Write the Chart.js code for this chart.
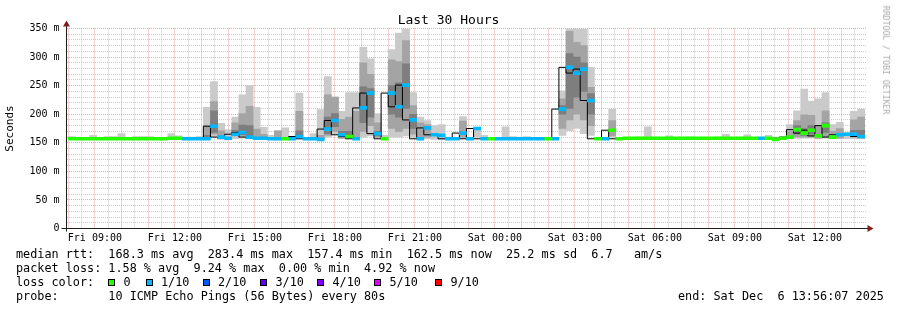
<!DOCTYPE html>
<html>
<head>
<meta charset="utf-8">
<script src="https://cdn.jsdelivr.net/npm/chart.js@4.4.1/dist/chart.umd.min.js"></script>
<style>
  body { margin: 0; background: #fff; }
  #wrap { position: relative; width: 897px; height: 310px; font-family: "DejaVu Sans Mono", monospace; color: #000; overflow: hidden; }
  #c { position: absolute; left: 0; top: 0; }
  .t { position: absolute; white-space: pre; line-height: 1; }
  .leg { font-size: 11.8px; }
  .sq { position: absolute; width: 5px; height: 5px; border: 1px solid #000; top: 279px; }
</style>
</head>
<body>
<div id="wrap">
  <canvas id="c" width="897" height="310"></canvas>
  <div class="t" style="left:0;width:897px;text-align:center;top:13px;font-size:13px;">Last 30 Hours</div>
  <div class="t" style="left:886px;top:60px;font-size:8.2px;color:#a8a8a8;transform:translate(-50%,-50%) rotate(90deg);">RRDTOOL / TOBI OETIKER</div>

  <div class="t leg" style="left:16px;top:249px;">median rtt:  168.3 ms avg  283.4 ms max  157.4 ms min  162.5 ms now  25.2 ms sd  6.7   am/s</div>
  <div class="t leg" style="left:16px;top:263px;">packet loss: 1.58 % avg  9.24 % max  0.00 % min  4.92 % now</div>
  <div class="t leg" style="left:16px;top:277px;">loss color:</div>
  <div id="lossLegend"></div>
  <div class="t leg" style="left:16px;top:290.5px;">probe:       10 ICMP Echo Pings (56 Bytes) every 80s</div>
  <div class="t leg" style="left:678px;top:290.5px;">end: Sat Dec  6 13:56:07 2025</div>
</div>

<script>
// time axis: hours since Fri 00:00
const viewStart = 7 + 56 / 60 + 7 / 3600;   // Fri 07:56:07
const viewEnd = viewStart + 30;              // Sat 13:56:07
const binStart = 8;                          // first 16 minute bin, Fri 08:00
const binHours = 16 / 60;

const lossColors = ['#26ff00', '#00b8ff', '#0059ff', '#5e00ff', '#7e00ff', '#dd00ff', '#ff0000'];
const lossLabels = ['0', '1/10', '2/10', '3/10', '4/10', '5/10', '9/10'];

const _ = null;

// median rtt per bin (ms)
const med = [
  157,157,157,157,157,157,157,157,157,157,
  157,157,157,157,158,158,157,157,157,157,
  179,160,158,165,168,160,158,158,157,157,
  157,157,161,157,157,156,174,189,164,161,
  157,211,237,166,157,237,213,251,190,157,
  176,164,163,157,157,167,157,175,157,157,
  157,157,157,157,157,157,157,157,157,209,
  282,272,279,224,157,157,172,157,158,158,
  158,158,158,158,158,158,158,158,158,158,
  158,158,158,158,158,158,158,158,158,156,
  158,160,173,167,172,162,180,160,164,165,
  165,161
];

// lost pings out of 10 per bin
const lost = [
  0,0,0,0,0,0,0,0,0,0,
  0,0,0,0,0,0,1,1,1,1,
  1,1,1,1,1,1,1,1,1,1,
  0,1,1,1,1,1,1,1,1,0,
  1,1,1,1,0,1,1,1,1,1,
  1,1,1,1,1,1,1,1,1,0,
  1,1,1,1,1,1,1,0,1,1,
  1,1,1,1,0,1,0,0,0,0,
  0,0,0,0,0,0,0,0,0,0,
  0,0,0,0,0,0,0,1,0,0,
  0,0,0,0,0,0,0,0,1,1,
  1,1
];

// smoke: fastest / slowest ping
const smokeLo = [
  156,156,156,156,156,156,156,156,156,156,
  156,156,156,156,156,156,156,156,156,158,
  161,156,156,157,158,157,156,156,156,156,
  156,156,157,156,156,156,160,165,157,157,
  156,160,162,158,156,160,160,162,160,156,
  157,156,156,156,156,157,156,160,156,156,
  156,156,156,156,156,156,156,156,156,163,
  171,175,166,163,156,156,160,156,156,156,
  156,156,156,156,156,156,156,156,156,156,
  156,156,156,156,156,156,156,156,156,156,
  156,157,158,158,158,157,158,157,157,157,
  157,157
];
const smokeHi = [
  161,159,159,163,159,161,161,166,159,161,
  161,161,159,159,166,162,160,160,161,212,
  257,184,173,195,234,250,212,177,163,171,
  176,160,237,159,166,208,266,230,205,238,
  238,317,297,201,163,313,342,350,238,195,
  189,180,182,160,159,196,158,176,163,158,
  158,178,161,160,161,158,158,158,158,241,
  350,350,350,282,158,158,209,158,159,159,
  160,178,160,159,162,159,159,160,159,159,
  159,160,165,159,159,164,159,159,163,160,
  159,182,206,244,223,227,238,182,186,168,
  205,209
];

// smoke: 3rd / 8th ping
const midLo = [
  _,_,_,_,_,_,_,_,_,_,
  _,_,_,_,_,_,_,_,_,160,
  165,158,_,162,162,160,157,157,_,157,
  _,_,158,_,_,157,163,170,158,158,
  158,170,180,160,_,175,170,175,165,158,
  160,_,_,_,_,160,_,_,_,_,
  _,_,_,_,_,_,_,_,_,175,
  190,200,190,180,_,_,162,_,_,_,
  _,_,_,_,_,_,_,_,_,_,
  _,_,_,_,_,_,_,_,_,_,
  _,158,160,160,160,158,160,158,158,_,
  160,158
];
const midHi = [
  _,_,_,_,_,_,_,_,_,_,
  _,_,_,_,_,_,_,_,_,180,
  222,171,_,185,201,214,174,165,_,171,
  _,_,205,_,_,163,234,230,191,195,
  205,290,270,185,_,295,292,329,215,185,
  182,_,_,_,_,188,_,_,_,_,
  _,_,_,_,_,_,_,_,_,227,
  345,326,320,247,_,_,189,_,_,_,
  _,_,_,_,_,_,_,_,_,_,
  _,_,_,_,_,_,_,_,_,_,
  _,170,189,199,198,180,206,170,175,_,
  190,195
];

// smoke: 4th / 7th ping
const innerLo = [
  _,_,_,_,_,_,_,_,_,_,
  _,_,_,_,_,_,_,_,_,159,
  168,_,_,163,164,162,_,_,_,_,
  _,_,159,_,_,_,166,178,160,159,
  _,185,195,162,_,200,195,210,175,_,
  _,_,_,_,_,_,_,_,_,_,
  _,_,_,_,_,_,_,_,_,200,
  210,230,240,200,_,_,_,_,_,_,
  _,_,_,_,_,_,_,_,_,_,
  _,_,_,_,_,_,_,_,_,_,
  _,_,165,163,165,_,168,_,_,_,
  162,160
];
const innerHi = [
  _,_,_,_,_,_,_,_,_,_,
  _,_,_,_,_,_,_,_,_,163,
  206,_,_,172,181,180,_,_,_,_,
  _,_,171,_,_,_,195,201,170,170,
  _,248,245,170,_,250,255,288,200,_,
  _,_,_,_,_,_,_,_,_,_,
  _,_,_,_,_,_,_,_,_,215,
  306,300,290,236,_,_,_,_,_,_,
  _,_,_,_,_,_,_,_,_,_,
  _,_,_,_,_,_,_,_,_,_,
  _,_,180,175,180,_,185,_,_,_,
  172,172
];

const binLeft = i => binStart + i * binHours;
const binCenter = i => binStart + (i + 0.5) * binHours;
const colorIndex = n => (n >= 9 ? 6 : Math.min(n, 5));
const isWhole = v => Math.abs(v - Math.round(v)) < 1e-6;

function band(lo, hi, color, order) {
  const pts = [];
  med.forEach((m, i) => {
    if (lo[i] == null || hi[i] == null) return;
    pts.push({ x: binCenter(i), y: [lo[i], hi[i]] });
  });
  return { type: 'bar', data: pts, backgroundColor: color, grouped: false,
           barPercentage: 1, categoryPercentage: 1, borderWidth: 0, order };
}

// median marks coloured by loss (LINE3 -> 3px high, 350ms over 200px)
const halfLine = 1.5 * 350 / 200;
const lossSets = lossColors.map((col, c) => ({
  type: 'bar',
  data: med.map((m, i) => colorIndex(lost[i]) === c ? { x: binCenter(i), y: [m - halfLine, m + halfLine] } : null)
           .filter(p => p),
  backgroundColor: col, grouped: false, barPercentage: 1, categoryPercentage: 1, borderWidth: 0, order: 1
}));

const medLine = med.map((m, i) => ({ x: binLeft(i), y: m }));
medLine.push({ x: binLeft(med.length), y: med[med.length - 1] });

const axisArrows = {
  id: 'axisArrows',
  afterDatasetsDraw(chart) {
    const { ctx, chartArea: a } = chart;
    ctx.save();
    ctx.strokeStyle = '#1f1f1f';
    ctx.lineWidth = 1;
    ctx.beginPath();
    ctx.moveTo(a.left - 5, a.bottom); ctx.lineTo(a.right + 3, a.bottom);
    ctx.moveTo(a.left, a.bottom + 3); ctx.lineTo(a.left, a.top - 3);
    ctx.stroke();
    ctx.fillStyle = '#801f1f';
    ctx.beginPath();
    ctx.moveTo(a.left, a.top - 8); ctx.lineTo(a.left - 3.5, a.top - 2); ctx.lineTo(a.left + 3.5, a.top - 2);
    ctx.fill();
    ctx.beginPath();
    ctx.moveTo(a.right + 7, a.bottom); ctx.lineTo(a.right + 1, a.bottom - 3.5); ctx.lineTo(a.right + 1, a.bottom + 3.5);
    ctx.fill();
    ctx.restore();
  }
};

const tickFont = { family: 'DejaVu Sans Mono', size: 10 };
const minorGrid = 'rgba(143,143,143,0.45)';
const majorGrid = 'rgba(222,79,79,0.5)';

new Chart(document.getElementById('c'), {
  type: 'bar',
  data: {
    datasets: [
      ...lossSets,
      { type: 'line', data: medLine, stepped: 'after', borderColor: '#000', borderWidth: 1,
        pointRadius: 0, fill: false, order: 3 },
      band(innerLo, innerHi, '#7e7e7e', 6),
      band(midLo, midHi, '#a4a4a4', 7),
      band(smokeLo, smokeHi, '#cacaca', 8)
    ]
  },
  options: {
    responsive: false,
    animation: false,
    layout: { padding: { top: 28.5, left: 0, right: 30.5, bottom: 0 } },
    plugins: { legend: { display: false }, tooltip: { enabled: false }, title: { display: false } },
    scales: {
      x: {
        type: 'linear',
        offset: false,
        min: viewStart,
        max: viewEnd,
        afterFit: s => { s.height = 81.5; },
        // half-hour grid on clock time, labels every 3 hours
        afterBuildTicks: s => {
          const ticks = [];
          for (let h = Math.ceil(viewStart * 2) / 2; h <= viewEnd; h += 0.5) ticks.push({ value: h });
          s.ticks = ticks;
        },
        border: { display: false, dash: [1, 1] },
        grid: {
          offset: false,
          drawTicks: false,
          color: c => (c.tick && isWhole(c.tick.value) ? majorGrid : minorGrid)
        },
        ticks: {
          autoSkip: false,
          maxRotation: 0,
          padding: 4,
          color: '#000',
          font: tickFont,
          callback: v => {
            const h = Math.round(v);
            if (!isWhole(v) || h % 3 !== 0) return '';
            const day = h < 24 ? 'Fri' : 'Sat';
            return day + ' ' + String(h % 24).padStart(2, '0') + ':00';
          }
        }
      },
      y: {
        min: 0,
        max: 350,
        afterFit: s => { s.width = 66.5; },
        border: { display: false, dash: [1, 1] },
        title: { display: true, text: 'Seconds', color: '#000',
                 font: { family: 'DejaVu Sans Mono', size: 11 }, padding: { top: 4, bottom: 0 } },
        grid: {
          drawTicks: false,
          color: c => (c.tick && Math.round(c.tick.value) % 50 === 0 ? majorGrid : minorGrid)
        },
        ticks: {
          stepSize: 10,
          autoSkip: false,
          padding: 7,
          color: '#000',
          font: tickFont,
          callback: v => {
            const r = Math.round(v);
            return r % 50 !== 0 ? '' : (r === 0 ? '0' : r + ' m');
          }
        }
      }
    }
  },
  plugins: [axisArrows]
});

// loss colour legend
const sqX = [108, 145.5, 202.5, 260, 317, 374, 435];
const legendBox = document.getElementById('lossLegend');
lossColors.forEach((col, i) => {
  const sq = document.createElement('div');
  sq.className = 'sq';
  sq.style.left = sqX[i] + 'px';
  sq.style.background = col;
  legendBox.appendChild(sq);
  const lab = document.createElement('div');
  lab.className = 't leg';
  lab.style.left = (sqX[i] + 15.5) + 'px';
  lab.style.top = '277px';
  lab.textContent = lossLabels[i];
  legendBox.appendChild(lab);
});
</script>
</body>
</html>
